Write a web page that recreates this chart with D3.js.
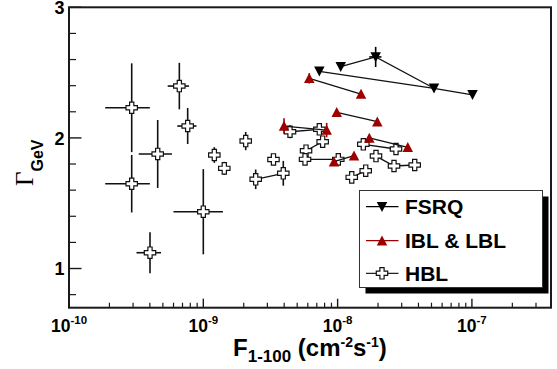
<!DOCTYPE html>
<html><head><meta charset="utf-8">
<script src="https://cdn.jsdelivr.net/npm/d3@7"></script>
<style>html,body{margin:0;padding:0;background:#fff;} svg{display:block;}</style>
</head><body>
<svg id="c" width="557" height="369"></svg>
<script>
// ---------- data ----------
const fsrqX = [7.31e-9, 1.055e-8, 1.92e-8, 5.22e-8, 1.01e-7];
const fsrqY = [2.51, 2.545, 2.62, 2.38, 2.33];
const fsrqXErr = [0, 0, 2.0e-9, 0, 0];
const fsrqYErr = [0, 0, 0.077, 0, 0];
const fsrqLinks = [[0, 3, 4], [1, 2, 3]];

const iblX = [6.15e-9, 1.494e-8, 9.85e-9, 1.975e-8, 3.99e-9, 8.29e-9, 1.722e-8, 3.33e-8, 1.325e-8, 9.4e-9];
const iblY = [2.456, 2.336, 2.196, 2.124, 2.091, 2.06, 2.0, 1.928, 1.864, 1.818];
const iblYErr = [0.04, 0, 0, 0, 0.06, 0.055, 0, 0, 0, 0];
const iblLinks = [[0, 1], [2, 3], [4, 5], [6, 7], [8, 9]];

const hblX = [2.93e-10, 2.93e-10, 6.63e-10, 7.65e-10, 4.575e-10, 1.0e-9, 4.01e-10,
  1.208e-9, 1.433e-9, 2.069e-9, 2.455e-9, 3.33e-9, 3.94e-9, 4.42e-9, 7.31e-9,
  5.82e-9, 7.74e-9, 5.72e-9, 1.012e-8, 1.554e-8, 2.72e-8, 1.931e-8, 2.63e-8,
  3.75e-8, 1.619e-8, 1.274e-8];
const hblY = [2.231, 1.649, 2.397, 2.091, 1.877, 1.435, 1.121,
  1.869, 1.767, 1.976, 1.683, 1.835, 1.729, 2.047, 2.066,
  1.902, 1.971, 1.836, 1.836, 1.951, 1.915, 1.861, 1.785,
  1.7925, 1.749, 1.698];
const hblXErr = [1.07e-10, 1.07e-10, 1.2e-10, 1.25e-10, 1.27e-10, 4.0e-10, 8.3e-11,
  0, 0, 0, 0, 0, 2.0e-10, 0, 0, 0, 0, 0, 0, 0, 0, 0, 0, 0, 0, 0];
const hblYErr = [0.34, 0.22, 0.178, 0.138, 0.26, 0.326, 0.157,
  0.06, 0.05, 0.07, 0.075, 0.04, 0.095, 0.05, 0, 0, 0, 0, 0, 0, 0, 0, 0, 0, 0, 0];
const hblLinks = [[10, 12], [13, 14], [15, 16], [17, 18], [19, 20], [21, 22, 23], [25, 24]];

const xMajorTicks = [1e-10, 1e-9, 1e-8, 1e-7];
const xMajorExp = ["-10", "-9", "-8", "-7"];
const yMajorTicks = [1, 2, 3];
const legendLabels = ["FSRQ", "IBL & LBL", "HBL"];

// ---------- layout ----------
const svg = d3.select("#c");
const L = 69, R = 551, T = 7.3, B = 307.7;
const x = d3.scaleLog().domain([1e-10, 3.88e-7]).range([L, R]);
const y = d3.scaleLinear().domain([0.7, 3]).range([B, T]);
const RED = "#9e0000";
const FONT = "'Liberation Sans', Arial, Helvetica, sans-serif";

// markers
const triDown = (cx, cy, s = 10.5) => `M${cx - s / 2},${cy - s * 0.45}L${cx + s / 2},${cy - s * 0.45}L${cx},${cy + s * 0.5}Z`;
const triUp = (cx, cy, s = 10.5) => `M${cx - s / 2},${cy + s * 0.45}L${cx + s / 2},${cy + s * 0.45}L${cx},${cy - s * 0.5}Z`;
const cross = (cx, cy, s = 5.7, a = 2.1) =>
  `M${cx - a},${cy - s}H${cx + a}V${cy - a}H${cx + s}V${cy + a}H${cx + a}V${cy + s}H${cx - a}V${cy + a}H${cx - s}V${cy - a}H${cx - a}Z`;

// ---------- frame & ticks ----------
const frame = svg.append("g");
frame.append("rect").attr("x", L).attr("y", T).attr("width", R - L).attr("height", B - T)
  .attr("fill", "none").attr("stroke", "#1a1a1a").attr("stroke-width", 2);

const xMinor = [];
for (let e = -10; e <= -7; e++) for (let k = 2; k <= 9; k++) { const v = k * Math.pow(10, e); if (v < 3.88e-7) xMinor.push(v); }
frame.selectAll(".xmin").data(xMinor).join("line")
  .attr("x1", d => x(d)).attr("x2", d => x(d)).attr("y1", B).attr("y2", B - 5)
  .attr("stroke", "#1a1a1a").attr("stroke-width", 1.2);
frame.selectAll(".xmaj").data(xMajorTicks).join("line")
  .attr("x1", d => x(d)).attr("x2", d => x(d)).attr("y1", B).attr("y2", B - 9)
  .attr("stroke", "#1a1a1a").attr("stroke-width", 1.4);

const yMinor = d3.range(0.8, 3.0, 0.2).filter(v => Math.abs(v - Math.round(v)) > 0.01);
frame.selectAll(".ymin").data(yMinor).join("line")
  .attr("x1", L).attr("x2", L + 7).attr("y1", d => y(d)).attr("y2", d => y(d))
  .attr("stroke", "#1a1a1a").attr("stroke-width", 1.2);
frame.selectAll(".ymaj").data(yMajorTicks).join("line")
  .attr("x1", L).attr("x2", L + 12.5).attr("y1", d => y(d)).attr("y2", d => y(d))
  .attr("stroke", "#1a1a1a").attr("stroke-width", 1.4);

// tick labels
xMajorTicks.forEach((v, i) => {
  const t = svg.append("text").attr("x", x(v)).attr("y", 331.5).attr("text-anchor", "middle")
    .attr("font-family", FONT).attr("font-weight", "bold").attr("fill", "#000");
  t.append("tspan").attr("font-size", 17.5).text("10");
  t.append("tspan").attr("font-size", 11.5).attr("dy", -8).text(xMajorExp[i]);
});
yMajorTicks.forEach(v => {
  svg.append("text").attr("x", 64.5).attr("y", y(v) + 6.6).attr("text-anchor", "end")
    .attr("font-family", FONT).attr("font-weight", "bold").attr("font-size", 18).attr("fill", "#000").text(String(v));
});

// axis titles
const xt = svg.append("text").attr("x", 233).attr("y", 356).attr("font-family", FONT).attr("font-weight", "bold").attr("fill", "#000");
xt.append("tspan").attr("font-size", 24).text("F");
xt.append("tspan").attr("font-size", 17).attr("dy", 6).text("1-100");
xt.append("tspan").attr("font-size", 24).attr("dy", -6).text(" (cm");
xt.append("tspan").attr("font-size", 14).attr("dy", -9).text("-2");
xt.append("tspan").attr("font-size", 24).attr("dy", 9).text("s");
xt.append("tspan").attr("font-size", 14).attr("dy", -9).text("-1");
xt.append("tspan").attr("font-size", 24).attr("dy", 9).text(")");

const yt = svg.append("text").attr("transform", "translate(33,186) rotate(-90)").attr("fill", "#000");
yt.append("tspan").attr("font-family", "'Liberation Serif','Times New Roman',serif").attr("font-size", 25).text("Γ");
yt.append("tspan").attr("font-family", FONT).attr("font-weight", "bold").attr("font-size", 16).attr("dy", 10).text("GeV");

// ---------- data marks ----------
const plot = svg.append("g");
const lineGen = d3.line();

function drawSeries(xs, ys, xerr, yerr, links, color, lineColor, marker) {
  const g = plot.append("g");
  links.forEach(ids => {
    g.append("path").attr("d", lineGen(ids.map(i => [x(xs[i]), y(ys[i])])))
      .attr("fill", "none").attr("stroke", lineColor).attr("stroke-width", 1.3);
  });
  xs.forEach((xv, i) => {
    const ex = xerr ? xerr[i] : 0, ey = yerr ? yerr[i] : 0;
    if (ex > 0) g.append("line").attr("x1", x(xv - ex)).attr("x2", x(xv + ex))
      .attr("y1", y(ys[i])).attr("y2", y(ys[i])).attr("stroke", color).attr("stroke-width", 1.6);
    if (ey > 0) g.append("line").attr("x1", x(xv)).attr("x2", x(xv))
      .attr("y1", y(ys[i] - ey)).attr("y2", y(ys[i] + ey)).attr("stroke", color).attr("stroke-width", 1.6);
  });
  xs.forEach((xv, i) => marker(g, x(xv), y(ys[i])));
}

drawSeries(hblX, hblY, hblXErr, hblYErr, hblLinks, "#111", "#111",
  (g, cx, cy) => g.append("path").attr("d", cross(cx, cy)).attr("fill", "#fff").attr("stroke", "#111").attr("stroke-width", 1.2));
drawSeries(iblX, iblY, null, iblYErr, iblLinks, RED, "#111",
  (g, cx, cy) => g.append("path").attr("d", triUp(cx, cy)).attr("fill", RED));
drawSeries(fsrqX, fsrqY, fsrqXErr, fsrqYErr, fsrqLinks, "#000", "#111",
  (g, cx, cy) => g.append("path").attr("d", triDown(cx, cy)).attr("fill", "#000"));

// ---------- legend ----------
const lg = svg.append("g");
const bx = 359.5, by = 190.5, bw = 183, bh = 97;
lg.append("rect").attr("x", bx + 6).attr("y", by + 6).attr("width", bw).attr("height", bh).attr("fill", "#000");
lg.append("rect").attr("x", bx).attr("y", by).attr("width", bw).attr("height", bh)
  .attr("fill", "#fff").attr("stroke", "#333").attr("stroke-width", 1);
const rowsY = [206.7, 240.7, 273.3];
const legColors = ["#000", RED, "#222"];
const legMarkers = [
  (cx, cy) => lg.append("path").attr("d", triDown(cx, cy)).attr("fill", "#000"),
  (cx, cy) => lg.append("path").attr("d", triUp(cx, cy)).attr("fill", RED),
  (cx, cy) => lg.append("path").attr("d", cross(cx, cy)).attr("fill", "#fff").attr("stroke", "#111").attr("stroke-width", 1.2)
];
legendLabels.forEach((lab, i) => {
  lg.append("line").attr("x1", 366).attr("x2", 398.5).attr("y1", rowsY[i]).attr("y2", rowsY[i])
    .attr("stroke", legColors[i]).attr("stroke-width", 1.3);
  legMarkers[i](382, rowsY[i]);
  lg.append("text").attr("x", 405).attr("y", rowsY[i] + 7.5).attr("font-family", FONT)
    .attr("font-weight", "bold").attr("font-size", 21).attr("fill", "#000").text(lab);
});
</script>
</body></html>
